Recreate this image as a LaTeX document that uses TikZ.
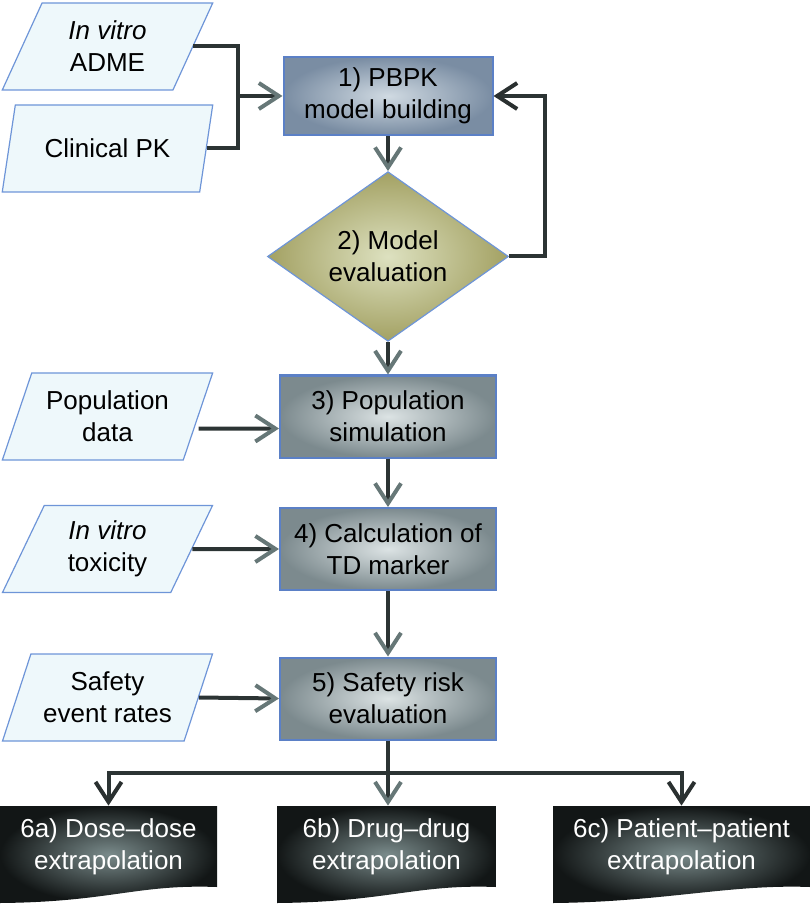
\documentclass[tikz,border=0pt]{standalone}
\usepackage{fontspec}
\setmainfont{Liberation Sans}
\usetikzlibrary{shapes.geometric,arrows.meta}
\definecolor{inbg}{HTML}{EEF8FB}
\definecolor{inline}{HTML}{6E95D8}
\definecolor{boxline}{HTML}{5B80C6}
\definecolor{boxdark}{HTML}{7C8A8E}
\definecolor{boxlight}{HTML}{DCE3E4}
\definecolor{pbpkdark}{HTML}{7A8DA3}
\definecolor{pbpklight}{HTML}{D0DAE2}
\definecolor{evaldark}{HTML}{A3A163}
\definecolor{evallight}{HTML}{DDE1C0}
\definecolor{docdark}{HTML}{121616}
\definecolor{doclight}{HTML}{7A8B8B}
\definecolor{wire}{HTML}{2C3434}
\definecolor{tipgray}{HTML}{667777}
\definecolor{tipdark}{HTML}{2A3030}

\begin{document}
\begin{tikzpicture}[x=0.5pt, y=-0.5pt, font=\fontsize{13}{16}\selectfont,
    inbox/.style={trapezium, trapezium left angle=65, trapezium right angle=115,
      trapezium stretches=true, draw=inline, line width=0.6pt, fill=inbg,
      minimum width=105.5pt, minimum height=43.5pt, inner sep=0pt, align=center},
    stage/.style={rectangle, draw=boxline, line width=1pt, inner color=boxlight,
      outer color=boxdark, minimum width=108pt, minimum height=41pt,
      inner sep=0pt, align=center},
    check/.style={diamond, draw=inline, line width=0.6pt, inner color=evallight,
      outer color=evaldark, minimum width=120.5pt, minimum height=69.5pt,
      inner sep=0pt, align=center},
    result/.style={rectangle, minimum height=40.5pt, inner sep=0pt,
      align=center, text=white},
    wire/.style={draw=wire, line width=2pt},
    arr/.style={wire, -{Straight Barb[length=10pt, width=13pt, color=#1]}},
    arr/.default=tipgray]
    \useasboundingbox (0,0) rectangle (810,908);

    % inputs
    \node at (107.5, 46.5) (adme) [inbox] {\textit{In vitro}\\ADME};
    \node at (107.5, 148.5) (clin) [inbox] {Clinical PK};
    \node at (107.5, 416.5) (popdata) [inbox] {Population\\data};
    \node at (107.5, 549) (tox) [inbox] {\textit{In vitro}\\toxicity};
    \node at (107.5, 697.5) (rates) [inbox] {Safety\\event rates};

    % main steps
    \node at (388, 96) (pbpk) [stage, minimum width=104.5pt, minimum height=39pt,
      inner color=pbpklight, outer color=pbpkdark] {1) PBPK\\model building};
    \node at (388, 256.5) (eval) [check] {2) Model\\evaluation};
    \node at (388, 416.5) (sim) [stage] {3) Population\\simulation};
    \node at (388, 549) (tdm) [stage] {4) Calculation of\\TD marker};
    \node at (388, 698.5) (risk) [stage] {5) Safety risk\\evaluation};

    % outputs
    \foreach \nm/\xa/\xb/\txt in {dosedose/0/217/{6a) Dose–dose\\extrapolation},
        drugdrug/277/496/{6b) Drug–drug\\extrapolation},
        patpat/553/810/{6c) Patient–patient\\extrapolation}} {
      \shade[inner color=doclight, outer color=docdark] (\xa,806) -- (\xb,806)
        -- (\xb,887) .. controls (\xb-80,884) and (\xa+110,902) .. (\xa,903) -- cycle;
      \node at ({(\xa+\xb)/2}, 846.5) (\nm) [result] {\txt};
    }

    \coordinate (merge) at (238, 96);
    \coordinate (back) at (545, 96);
    \coordinate (bus) at (388, 773);

    \draw[wire] (adme.east) -| (merge);
    \draw[wire] (clin.east) -| (merge);
    \draw[arr] (merge) -- (pbpk.west);
    \draw[arr] (pbpk.south) -- (eval.north);
    \draw[arr=tipdark] (eval.east) -| (back) -- (pbpk.east);
    \draw[arr] (eval.south) -- (sim.north);
    \draw[arr] ([yshift=-6pt]popdata.east) -- ([yshift=-6pt]sim.west);
    \draw[arr] (sim.south) -- (tdm.north);
    \draw[arr] (tox.east) -- (tdm.west);
    \draw[arr] (tdm.south) -- (risk.north);
    \draw[arr] (rates.east) -- (risk.west);
    \draw[wire] (risk.south) -- (bus);
    \draw[arr=tipdark] (bus) -| (dosedose);
    \draw[arr] (bus) -- (bus |- drugdrug.north);
    \draw[arr=tipdark] (bus) -| (patpat);
  \end{tikzpicture}
\end{document}
